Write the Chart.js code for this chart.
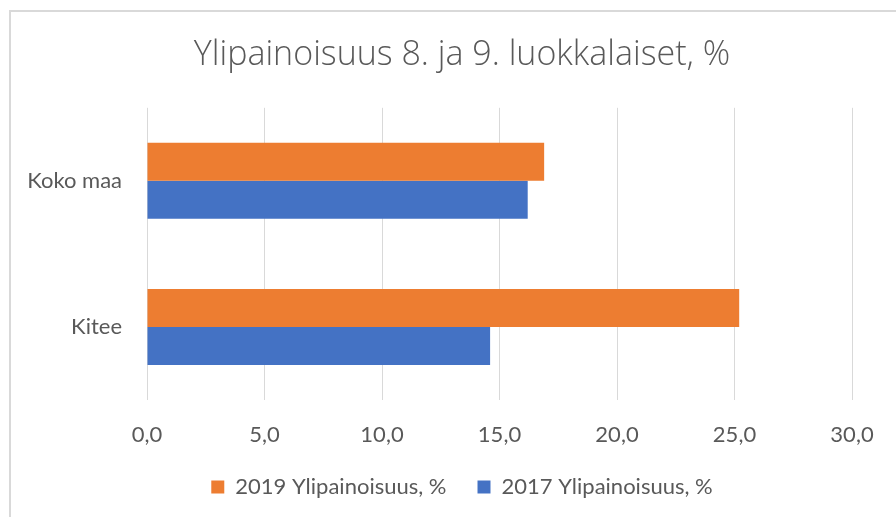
<!DOCTYPE html>
<html>
<head>
<meta charset="utf-8">
<script src="https://cdn.jsdelivr.net/npm/chart.js@4/dist/chart.umd.min.js"></script>
<style>
  html, body { margin: 0; padding: 0; background: #fff; }
  #wrap { width: 896px; height: 517px; }
</style>
</head>
<body>
<div id="wrap"><canvas id="obesityChart"></canvas></div>
<script>
const categories = ['Koko maa', 'Kitee'];
const series2019 = [16.9, 25.2];
const series2017 = [16.2, 14.6];
const seriesLabels = ['2019 Ylipainoisuus, %', '2017 Ylipainoisuus, %'];
const xTicks = [0, 5, 10, 15, 20, 25, 30];

const grey = '#595959';
const font = 'Lato, "Open Sans", sans-serif';

// white background + the thin frame round the chart
const framePlugin = {
    id: 'frame',
    beforeDraw(chart) {
        const c = chart.ctx;
        c.save();
        c.fillStyle = '#fff';
        c.fillRect(0, 0, chart.width, chart.height);
        c.strokeStyle = '#d9d9d9';
        c.lineWidth = 2;
        c.strokeRect(10, 11, chart.width + 20, chart.height + 20);
        c.restore();
    }
};

const ctx = document.getElementById('obesityChart').getContext('2d');

const obesityChart = new Chart(ctx, {
    type: 'bar',
    data: {
        labels: categories,
        datasets: [{
            label: seriesLabels[0],
            data: series2019,
            backgroundColor: '#ED7D31',
            categoryPercentage: 0.52,
            barPercentage: 1.0
        }, {
            label: seriesLabels[1],
            data: series2017,
            backgroundColor: '#4472C4',
            categoryPercentage: 0.52,
            barPercentage: 1.0
        }]
    },
    options: {
        indexAxis: 'y',
        responsive: true,
        maintainAspectRatio: false,
        animation: false,
        // title and legend are centred a bit right of the canvas middle
        layout: { padding: { left: 28, right: 0, top: 0, bottom: 9 } },
        scales: {
            x: {
                min: xTicks[0],
                max: xTicks[xTicks.length - 1],
                afterBuildTicks: (scale) => { scale.ticks = xTicks.map(v => ({ value: v })); },
                afterFit: (scale) => { scale.height = 45; },
                grid: { color: '#d9d9d9', lineWidth: 1, drawTicks: false },
                border: { display: false },
                ticks: {
                    padding: 22,
                    color: grey,
                    font: { family: font, size: 22 },
                    callback: (v) => Number(v).toFixed(1).replace('.', ',')
                }
            },
            y: {
                afterFit: (scale) => { scale.width = 119; },
                grid: { display: false, drawTicks: false },
                border: { display: false },
                ticks: {
                    padding: 25,
                    color: grey,
                    font: { family: font, size: 22 }
                }
            },
            // empty axis on the right, only to keep space after the plot
            yRight: {
                type: 'category',
                position: 'right',
                afterFit: (scale) => { scale.width = 44; },
                grid: { display: false, drawTicks: false },
                border: { display: false },
                ticks: { display: false }
            }
        },
        plugins: {
            title: {
                display: true,
                text: 'Ylipainoisuus 8. ja 9. luokkalaiset, %',
                color: grey,
                font: { family: '"Open Sans", Lato, sans-serif', size: 34, weight: '300' },
                padding: { top: 35, bottom: 32 }
            },
            legend: {
                position: 'bottom',
                labels: {
                    color: grey,
                    font: { family: font, size: 22 },
                    boxWidth: 13,
                    boxHeight: 13,
                    padding: 31
                }
            },
            tooltip: { enabled: false }
        }
    },
    plugins: [framePlugin]
});
</script>
</body>
</html>
